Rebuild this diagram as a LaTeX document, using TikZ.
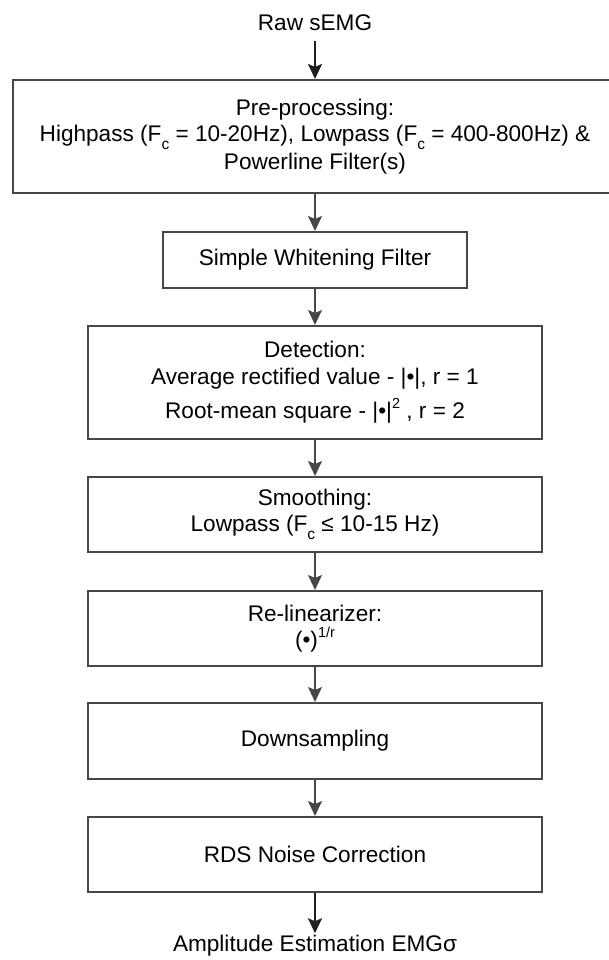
\documentclass[tikz,border=0pt]{standalone}
\usepackage{fontspec}
\setmainfont{Liberation Sans}
\usetikzlibrary{arrows.meta}
\newcommand\mysubc[1]{\raisebox{-0.36em}{\fontsize{15.5}{15.5}\selectfont #1}}
\newcommand\mysupr[1]{\raisebox{0.45em}{\fontsize{14.5}{14.5}\selectfont #1}}
\tikzset{
  procbox/.style={draw=black!72, line width=2pt, fill=white, align=center,
    inner sep=0pt, font=\fontsize{22.6}{26.5}\selectfont},
  plain/.style={inner sep=0pt, font=\fontsize{22.6}{26.5}\selectfont},
  flowarrow/.style={draw=black!72, line width=1.6pt,
    -{Stealth[width=14pt,length=15pt,inset=3pt]}},
  endarrow/.style={draw=black!88, line width=2.2pt,
    -{Stealth[width=14pt,length=15pt,inset=3pt]}}
}
\begin{document}
\begin{tikzpicture}[x=1pt,y=-1pt]
\clip (0,0) rectangle (609,960);
\fill[white] (0,0) rectangle (609,960);

\node[plain] (raw) at (315,23) {Raw sEMG};

\node[procbox, minimum width=604pt, minimum height=113pt] (pre) at (315,136.5)
  {Pre-processing:\\
   Highpass (F\mysubc{c} = 10-20Hz), Lowpass (F\mysubc{c} = 400-800Hz) \&\\[1pt]
   Powerline Filter(s)};

\node[procbox, minimum width=304pt, minimum height=56pt] (white) at (315,260)
  {Simple Whitening Filter};

\node[procbox, minimum width=454pt, minimum height=113pt] (det) at (315,382.5)
  {Detection:\\
   Average rectified value - |•|, r = 1\\[8pt]
   Root-mean square - |•|\mysupr{2} , r = 2};

\node[procbox, minimum width=454pt, minimum height=75pt] (smooth) at (315,514.5)
  {Smoothing:\\
   Lowpass (F\mysubc{c} ≤ 10-15 Hz)};

\node[procbox, minimum width=454pt, minimum height=75pt] (relin) at (315,628.5)
  {Re-linearizer:\\
   (•)\mysupr{1/r}};

\node[procbox, minimum width=454pt, minimum height=76pt] (down) at (315,741)
  {Downsampling};

\node[procbox, minimum width=454pt, minimum height=75pt] (rds) at (315,854.5)
  {RDS Noise Correction};

\node[plain] (amp) at (315,946) {Amplitude Estimation EMGσ};

\draw[endarrow, shorten <=10pt] (raw.south) -- (pre.north);
\draw[flowarrow] (pre.south) -- (white.north);
\draw[flowarrow] (white.south) -- (det.north);
\draw[flowarrow] (det.south) -- (smooth.north);
\draw[flowarrow] (smooth.south) -- (relin.north);
\draw[flowarrow] (relin.south) -- (down.north);
\draw[flowarrow] (down.south) -- (rds.north);
\draw[endarrow, shorten >=2pt] (rds.south) -- (amp.north);
\end{tikzpicture}
\end{document}
